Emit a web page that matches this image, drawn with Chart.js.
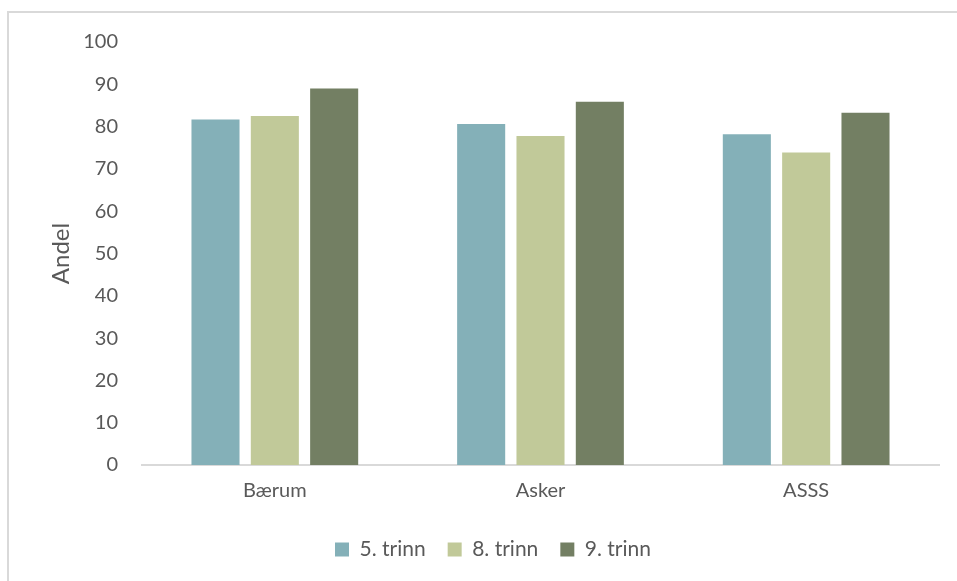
<!DOCTYPE html>
<html>
<head>
<meta charset="utf-8">
<script src="https://cdn.jsdelivr.net/npm/chart.js@4"></script>
<style>
  html, body { margin: 0; padding: 0; background: #fff; }
  #wrap { width: 957px; height: 581px; position: relative; }
</style>
</head>
<body>
<div id="wrap"><canvas id="myChart"></canvas></div>
<script>
const categories = ['Bærum', 'Asker', 'ASSS']
const seriesNames = ['5. trinn', '8. trinn', '9. trinn']
const trinn5 = [81.7, 80.6, 78.2]
const trinn8 = [82.5, 77.8, 73.9]
const trinn9 = [89.0, 85.9, 83.3]
const colors = ['#84b0b8', '#c1c999', '#737f63']

const fontFam = 'Lato, "Open Sans", sans-serif'
const textColor = '#595959'

// light gray frame, top and left edge only are visible
const framePlugin = {
  id: 'frame',
  beforeDraw(chart) {
    const ctx = chart.ctx
    ctx.save()
    ctx.strokeStyle = '#d9d9d9'
    ctx.lineWidth = 2
    ctx.beginPath()
    ctx.moveTo(8, 600)
    ctx.lineTo(8, 12)
    ctx.lineTo(960, 12)
    ctx.stroke()
    ctx.restore()
  }
}

const seriesData = [trinn5, trinn8, trinn9]
const chartEl = document.getElementById('myChart')
const myChart = new Chart(chartEl, {
  type: 'bar',
  data: {
    labels: categories,
    datasets: seriesNames.map((name, i) => ({
      label: name,
      data: seriesData[i],
      backgroundColor: colors[i],
      categoryPercentage: 0.67,
      barPercentage: 0.81
    }))
  },
  options: {
    responsive: true,
    maintainAspectRatio: false,
    animation: false,
    layout: { padding: { top: 42, right: 18, bottom: 11, left: 47 } },
    plugins: {
      tooltip: { enabled: false },
      legend: {
        position: 'bottom',
        labels: {
          boxWidth: 14,
          boxHeight: 14,
          padding: 22,
          color: textColor,
          font: { family: fontFam, size: 21 }
        }
      }
    },
    scales: {
      x: {
        grid: { display: false, drawTicks: false },
        border: { display: true, color: '#d9d9d9', width: 2 },
        ticks: { color: textColor, padding: 14, font: { family: fontFam, size: 20 } }
      },
      y: {
        min: 0,
        max: 100,
        grid: { display: false, drawTicks: false },
        border: { display: false },
        ticks: { stepSize: 10, color: textColor, padding: 24, font: { family: fontFam, size: 20 } },
        title: { display: true, text: 'Andel', color: textColor, padding: 0, font: { family: fontFam, size: 24 } },
        afterFit(scale) { scale.width = 95 }
      }
    }
  },
  plugins: [framePlugin]
})
</script>
</body>
</html>
